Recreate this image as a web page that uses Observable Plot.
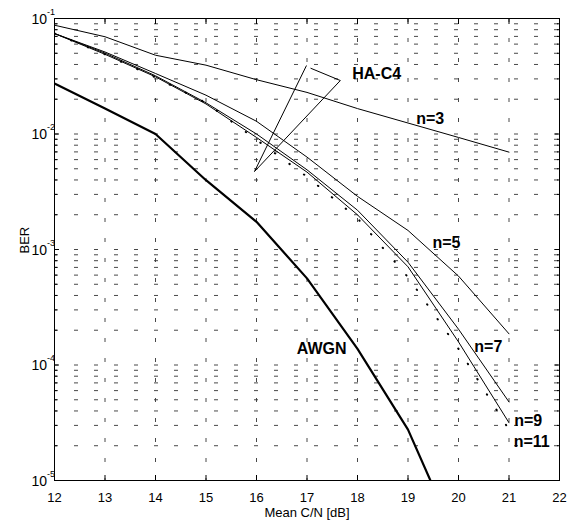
<!DOCTYPE html>
<html><head><meta charset="utf-8">
<script src="https://cdn.jsdelivr.net/npm/d3@7"></script>
<script src="https://cdn.jsdelivr.net/npm/@observablehq/plot@0.6"></script>
<style>body{margin:0;background:#fff} svg{display:block}</style>
</head><body><div id="chart"></div>
<script>
// Mean C/N [dB]
const snr = [12, 13, 14, 15, 16, 17, 18, 19, 20, 21];
// log10(BER) per curve
const berN3  = [-1.058, -1.158, -1.318, -1.404, -1.53, -1.64, -1.78, -1.905, -2.03, -2.157];
const berN5  = [-1.13, -1.29, -1.476, -1.664, -1.89, -2.20, -2.54, -2.835, -3.23, -3.73];
const berN7  = [-1.13, -1.30, -1.496, -1.73, -2.00, -2.31, -2.66, -3.11, -3.69, -4.32];
const berN9  = [-1.13, -1.31, -1.505, -1.74, -2.03, -2.33, -2.70, -3.15, -3.80, -4.50];
const berN11 = [-1.13, -1.31, -1.51, -1.73, -2.05, -2.37, -2.73, -3.24, -3.86, -4.56];
const snrAwgn = [12, 13, 14, 15, 16, 17, 18, 19, 20];
const berAwgn = [-1.563, -1.78, -2.0, -2.40, -2.76, -3.25, -3.86, -4.56, -5.55];

// axis ticks
const xTicks = [12, 13, 14, 15, 16, 17, 18, 19, 20, 21, 22];
const yExponents = [-5, -4, -3, -2, -1];
const yMinor = [];
for (const e of [-5, -4, -3, -2]) for (const k of [2,3,4,5,6,7,8,9]) yMinor.push(k * 10 ** e);
const yMajor = yExponents.map(e => 10 ** e);

// curve labels (position in data coords: C/N, log10 BER)
const labelText = ["n=3", "n=5", "n=7", "n=9", "n=11", "AWGN", "HA-C4"];
const labelX    = [19.44, 19.76, 20.59, 21.38, 21.45, 17.29, 18.38];
const labelY    = [-1.87, -2.94, -3.84, -4.485, -4.662, -3.861, -1.476];

// HA-C4 pointer lines (data coords)
const ptrX1 = [15.96, 15.96, 17.07];
const ptrY1 = [-2.325, -2.325, -1.43];
const ptrX2 = [16.99, 17.66, 17.66];
const ptrY2 = [-1.407, -1.537, -1.537];

const toRows = (xs, ys) => xs.map((x, i) => ({x, ber: 10 ** ys[i]}));
const curves = [
  {name: "n=3", rows: toRows(snr, berN3)},
  {name: "n=5", rows: toRows(snr, berN5)},
  {name: "n=7", rows: toRows(snr, berN7)},
  {name: "n=9", rows: toRows(snr, berN9)},
];
const labels = labelText.map((t, i) => ({t, x: labelX[i], y: 10 ** labelY[i]}));
const ptrs = ptrX1.map((_, i) => ({x1: ptrX1[i], y1: 10 ** ptrY1[i], x2: ptrX2[i], y2: 10 ** ptrY2[i]}));

const grid = {stroke: "#333", strokeWidth: 0.9, strokeDasharray: "4,16"};

const chart = Plot.plot({
  width: 567, height: 532,
  marginLeft: 54, marginRight: 8, marginTop: 18, marginBottom: 52,
  style: {fontFamily: "'Liberation Sans', Arial, sans-serif", color: "#000", background: "#fff"},
  x: {domain: [12, 22]},
  y: {type: "log", domain: [1e-5, 1e-1]},
  marks: [
    Plot.ruleY(yMinor.concat(yMajor.slice(1, 4)), grid),
    Plot.ruleX(xTicks.slice(1, 10), grid),
    ...curves.map(c => Plot.line(c.rows, {x: "x", y: "ber", stroke: "#000", strokeWidth: 1, clip: true})),
    Plot.line(toRows(snr, berN11), {x: "x", y: "ber", stroke: "#000", strokeWidth: 2, strokeDasharray: "0.5,17.5", strokeLinecap: "round", clip: true}),
    Plot.line(toRows(snrAwgn, berAwgn), {x: "x", y: "ber", stroke: "#000", strokeWidth: 2.2, clip: true}),
    Plot.link(ptrs, {x1: "x1", y1: "y1", x2: "x2", y2: "y2", stroke: "#000", strokeWidth: 1}),
    Plot.text(labels, {x: "x", y: "y", text: "t", fontSize: 16, fontWeight: "bold", fill: "#000"}),
    Plot.frame({stroke: "#000", strokeWidth: 1}),
    // inside ticks
    Plot.axisX(xTicks, {anchor: "bottom", tickSize: -5, fill: "none", label: null}),
    Plot.axisX(xTicks, {anchor: "top", tickSize: -5, fill: "none", label: null}),
    Plot.axisY(yMajor, {anchor: "left", tickSize: -5, fill: "none", label: null}),
    Plot.axisY(yMajor, {anchor: "right", tickSize: -5, fill: "none", label: null}),
    Plot.axisY(yMinor, {anchor: "left", tickSize: -3, fill: "none", label: null}),
    Plot.axisY(yMinor, {anchor: "right", tickSize: -3, fill: "none", label: null}),
    // x tick labels
    Plot.axisX(xTicks, {anchor: "bottom", tickSize: 0, tickPadding: 12, fontSize: 13, stroke: "none", label: null}),
    // y tick labels 10^e
    Plot.text(yExponents, {x: 12, y: e => 10 ** e, text: () => "10", textAnchor: "end", dx: -7.5, dy: 1, fontSize: 14, fill: "#000"}),
    Plot.text(yExponents, {x: 12, y: e => 10 ** e, text: e => String(e), textAnchor: "start", dx: -7.5, dy: -6.5, fontSize: 9, fill: "#000"}),
    // axis titles
    Plot.text(["Mean C/N [dB]"], {frameAnchor: "bottom", text: d => d, dy: 36.5, fontSize: 13, fill: "#000"}),
    Plot.text(["BER"], {frameAnchor: "left", text: d => d, dx: -30, dy: 4, rotate: -90, fontSize: 13, fill: "#000"})
  ]
});
document.getElementById("chart").append(chart);
</script>
</body></html>
